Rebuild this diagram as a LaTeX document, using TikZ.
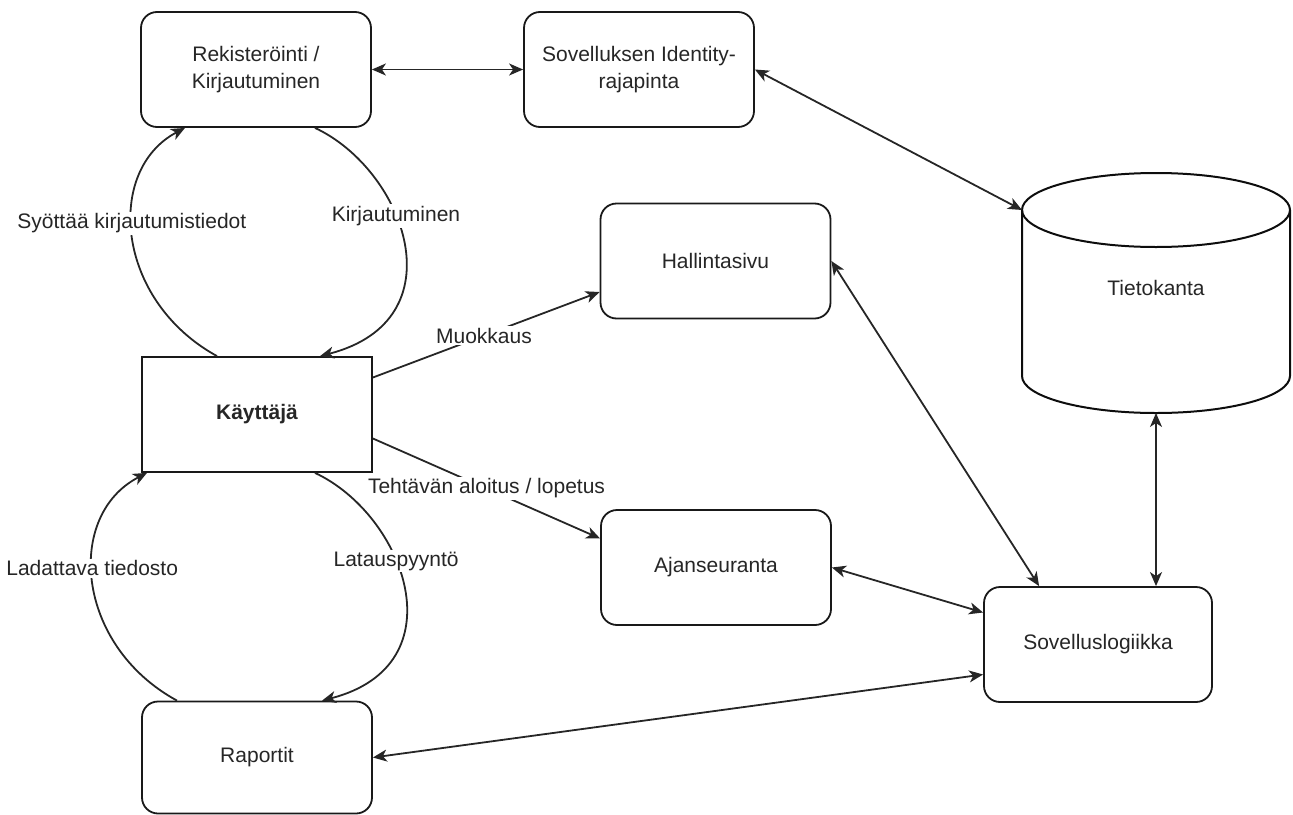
\documentclass[tikz,border=0pt]{standalone}
\usepackage{fontspec}
\setmainfont{Liberation Sans}
\usetikzlibrary{arrows.meta,calc}
\begin{document}
\begin{tikzpicture}[x=1pt,y=-1pt,
  every node/.style={font=\fontsize{21}{27}\selectfont, text=black!85},
  box/.style={draw=black!90, line width=1.8pt, rounded corners=16pt, minimum width=230pt, minimum height=115pt, align=center, inner sep=0pt},
  plainbox/.style={box, rounded corners=0pt},
  conn/.style={line width=1.8pt, draw=black!85},
  arr/.style={conn, -{Stealth[length=14pt,width=12pt,inset=4pt]}},
  darr/.style={conn, {Stealth[length=14pt,width=12pt,inset=4pt]}-{Stealth[length=14pt,width=12pt,inset=4pt]}},
  lbl/.style={fill=white, inner sep=2pt}]
\useasboundingbox (0,0) rectangle (1293,814);

% nodes
\node[box] (rek) at (256,69.5) {Rekisteröinti /\\Kirjautuminen};
\node[box] (ident) at (639,69.5) {Sovelluksen Identity-\\rajapinta};
\node[box] (hal) at (715.5,261) {Hallintasivu};
\node[plainbox] (kay) at (257,414.5) {\bfseries Käyttäjä};
\node[box] (ajan) at (716,567.5) {Ajanseuranta};
\node[box, minimum height=112pt] (rap) at (257,757.5) {Raportit};
\node[box, minimum width=228pt] (sov) at (1098,644.5) {Sovelluslogiikka};

% database cylinder
\draw[line width=2pt, draw=black!95] (1022,210) -- (1022,376)
  arc[start angle=180, end angle=360, x radius=134pt, y radius=37pt] -- (1290,210);
\draw[line width=2pt, draw=black!95] (1156,210) ellipse [x radius=134pt, y radius=37pt];
\node (db) at (1156,288) {Tietokanta};
\coordinate (dbleft) at (1022,210);
\coordinate (dbbot) at (1156,413);

% connectors
\draw[darr] (rek.east) -- (ident.west);
\draw[darr] (ident.east) -- (dbleft);
\draw[darr] (dbbot) -- (dbbot |- sov.north);
\draw[darr] (hal.east) -- ($(sov.north west)+(56,0)$);
\draw[darr] (ajan.east) -- ($(sov.west)+(0,-32)$);
\draw[darr] (rap.east) -- ($(sov.west)+(0,30)$);

\draw[arr] ($(kay.north)+(-40,0)$) .. controls (115,300) and (105,170) .. ($(rek.south)+(-71,0)$)
  node[lbl, pos=0.55] {Syöttää kirjautumistiedot};
\draw[arr] ($(rek.south)+(59,0)$) .. controls (405,170) and (460,320) .. ($(kay.north)+(63,0)$)
  node[lbl, pos=0.4] {Kirjautuminen};
\draw[arr] ($(kay.south)+(58,0)$) .. controls (405,515) and (460,665) .. ($(rap.north)+(65,0)$)
  node[lbl, pos=0.4] {Latauspyyntö};
\draw[arr] ($(rap.north)+(-80,0)$) .. controls (75,645) and (65,515) .. ($(kay.south)+(-110,0)$)
  node[lbl, pos=0.55] {Ladattava tiedosto};

\draw[arr] ($(kay.east)+(0,-37)$) -- ($(hal.west)+(0,31)$) node[lbl, pos=0.49] {Muokkaus};
\draw[arr] ($(kay.east)+(0,24)$) -- ($(ajan.west)+(0,-29)$) node[lbl, pos=0.5] {Tehtävän aloitus / lopetus};
\end{tikzpicture}
\end{document}
